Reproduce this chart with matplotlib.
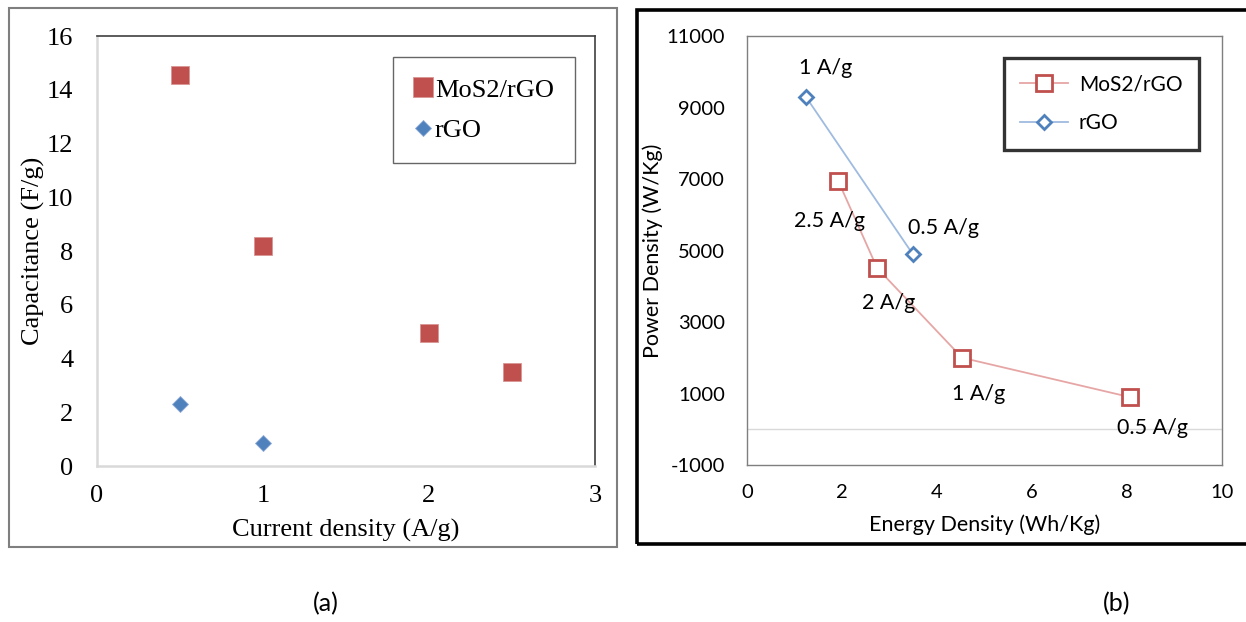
import matplotlib
matplotlib.use("Agg")
import matplotlib.pyplot as plt
from matplotlib.patches import Rectangle

plt.rcParams["axes.unicode_minus"] = False

# ---------------- data ----------------
# (a) capacitance vs current density
cur_mos2 = [0.5, 1, 2, 2.5]
cap_mos2 = [14.55, 8.2, 4.95, 3.5]
cur_rgo = [0.5, 1]
cap_rgo = [2.3, 0.85]

# (b) Ragone plot
energy_mos2 = [1.92, 2.74, 4.53, 8.06]
power_mos2 = [6950, 4510, 2000, 900]
labels_mos2 = ["2.5 A/g", "2 A/g", "1 A/g", "0.5 A/g"]
energy_rgo = [1.24, 3.49]
power_rgo = [9300, 4900]
labels_rgo = ["1 A/g", "0.5 A/g"]

xticks_a = [0, 1, 2, 3]
yticks_a = [0, 2, 4, 6, 8, 10, 12, 14, 16]
xticks_b = [0, 2, 4, 6, 8, 10]
yticks_b = [-1000, 1000, 3000, 5000, 7000, 9000, 11000]

RED = "#C0504D"
BLUE = "#4F81BD"
SERIF = ["Liberation Serif", "DejaVu Serif"]
SANS = ["Lato", "DejaVu Sans"]

fig = plt.figure(figsize=(12.46, 6.22), dpi=100)
fig.patch.set_facecolor("white")

# outer panel frames
fig.add_artist(Rectangle((0.0075, 0.1206), 0.4875, 0.8666, transform=fig.transFigure,
                         fill=False, edgecolor="#7f7f7f", linewidth=1.5))
fig.add_artist(Rectangle((0.5112, 0.1254), 0.52, 0.859, transform=fig.transFigure,
                         fill=False, edgecolor="black", linewidth=2.6, clip_on=False))

# ---------------- (a) ----------------
ax1 = fig.add_axes([0.0778, 0.2508, 0.3997, 0.6913])
ax1.plot(cur_mos2, cap_mos2, linestyle="none", marker="s", markersize=12.5,
         color=RED, markeredgecolor="#d99694", markeredgewidth=0.6, label="MoS2/rGO",
         clip_on=False, zorder=3)
ax1.plot(cur_rgo, cap_rgo, linestyle="none", marker="D", markersize=7.8,
         color=BLUE, markeredgecolor="#8eaad6", markeredgewidth=0.6, label="rGO",
         clip_on=False, zorder=3)
ax1.set_xlim(0, 3)
ax1.set_ylim(0, 16)
ax1.set_xticks(xticks_a)
ax1.set_yticks(yticks_a)
ax1.tick_params(length=0, labelsize=19)
ax1.tick_params(axis="y", pad=17)
ax1.tick_params(axis="x", pad=14)
for lab in ax1.get_xticklabels() + ax1.get_yticklabels():
    lab.set_family(SERIF)
ax1.spines["left"].set_color("#d9d9d9")
ax1.spines["left"].set_linewidth(1.8)
ax1.spines["bottom"].set_color("#d9d9d9")
ax1.spines["bottom"].set_linewidth(1.8)
ax1.spines["top"].set_color("#404040")
ax1.spines["top"].set_linewidth(1.2)
ax1.spines["right"].set_color("#404040")
ax1.spines["right"].set_linewidth(1.2)
ax1.set_xlabel("Current density (A/g)", fontsize=19, family=SERIF, labelpad=8)
ax1.set_ylabel("Capacitance (F/g)", fontsize=19, family=SERIF, labelpad=1)
leg1 = ax1.legend(loc="upper right", bbox_to_anchor=(0.96, 0.951), frameon=True,
                  fancybox=False, edgecolor="#404040", prop={"family": SERIF, "size": 19},
                  handlelength=0.7, handletextpad=0.1, borderpad=0.8, labelspacing=0.65,
                  borderaxespad=0, markerscale=1.1)
leg1.get_frame().set_linewidth(1.0)

# ---------------- (b) ----------------
ax2 = fig.add_axes([0.5995, 0.2524, 0.3812, 0.6897])
ax2.axhline(0, color="#d9d9d9", linewidth=1.0, zorder=1)
ax2.plot(energy_mos2, power_mos2, color="#e6a6a5", linewidth=1.3, marker="s",
         markersize=11, markerfacecolor="white", markeredgecolor=RED,
         markeredgewidth=2.0, label="MoS2/rGO", zorder=3)
ax2.plot(energy_rgo, power_rgo, color="#9fbbe0", linewidth=1.3, marker="D",
         markersize=7.5, markerfacecolor="white", markeredgecolor=BLUE,
         markeredgewidth=2.0, label="rGO", zorder=3)

offs_mos2 = [(-6, -29), (8, -25), (12, -26), (16, -22)]
offs_rgo = [(14, 21), (22, 19)]
for x, y, t, o in zip(energy_mos2, power_mos2, labels_mos2, offs_mos2):
    ax2.annotate(t, (x, y), xytext=o, textcoords="offset points", ha="center",
                 va="center", fontsize=15.5, family=SANS, zorder=4)
for x, y, t, o in zip(energy_rgo, power_rgo, labels_rgo, offs_rgo):
    ax2.annotate(t, (x, y), xytext=o, textcoords="offset points", ha="center",
                 va="center", fontsize=15.5, family=SANS, zorder=4)

ax2.set_xlim(0, 10)
ax2.set_ylim(-1000, 11000)
ax2.set_xticks(xticks_b)
ax2.set_yticks(yticks_b)
ax2.tick_params(length=0, labelsize=14.5)
ax2.tick_params(axis="y", pad=16)
ax2.tick_params(axis="x", pad=14)
for lab in ax2.get_xticklabels() + ax2.get_yticklabels():
    lab.set_family(SANS)
for s in ax2.spines.values():
    s.set_color("#7f7f7f")
    s.set_linewidth(1.0)
ax2.set_xlabel("Energy Density (Wh/Kg)", fontsize=15.5, family=SANS, labelpad=9)
ax2.set_ylabel("Power Density (W/Kg)", fontsize=15.5, family=SANS, labelpad=2)
leg2 = ax2.legend(loc="upper right", bbox_to_anchor=(0.9516, 0.949), frameon=True,
                  fancybox=False, edgecolor="black", prop={"family": SANS, "size": 15},
                  handlelength=2.3, handletextpad=0.5, borderpad=0.8, labelspacing=0.9,
                  borderaxespad=0)
leg2.get_frame().set_linewidth(2.4)

# captions
fig.text(326 / 1246, 1 - 604 / 622, "(a)", ha="center", va="center", fontsize=18,
         family=SANS)
fig.text(1117 / 1246, 1 - 604 / 622, "(b)", ha="center", va="center", fontsize=18,
         family=SANS)

fig.savefig("out.png", dpi=100, facecolor="white")
